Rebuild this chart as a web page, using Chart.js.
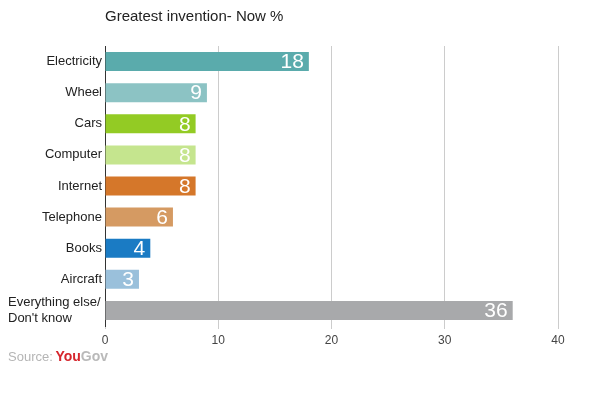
<!DOCTYPE html>
<html>
<head>
<meta charset="utf-8">
<script src="https://cdn.jsdelivr.net/npm/chart.js@4"></script>
<style>
  html, body { margin: 0; padding: 0; background: #fff; }
  #wrap { width: 600px; height: 401px; position: relative; }
</style>
</head>
<body>
<div id="wrap"><canvas id="chart"></canvas></div>
<script>
// data
const categories = ["Electricity", "Wheel", "Cars", "Computer", "Internet", "Telephone", "Books", "Aircraft", ["Everything else/", "Don't know"]]
const values = [18, 9, 8, 8, 8, 6, 4, 3, 36]
const barColors = ["#5aabac", "#8cc3c4", "#93cb24", "#c5e58e", "#d5772a", "#d59a62", "#1a7bc4", "#9ac0db", "#a8a9ab"]
const xTicks = [0, 10, 20, 30, 40]

const FONT = "'Liberation Sans', Arial, sans-serif"

// title, value labels and source line
const extras = {
  id: "extras",
  beforeDraw(chart) {
    // the two-line label is left aligned in the original
    const items = chart.scales.y.getLabelItems()
    items.forEach((item) => {
      if (Array.isArray(item.label)) {
        item.options.textAlign = "left"
        item.options.translation[0] = 8
      }
    })
  },
  afterDatasetsDraw(chart) {
    const ctx = chart.ctx
    const area = chart.chartArea
    ctx.save()

    // title
    ctx.font = "15px " + FONT
    ctx.fillStyle = "#222"
    ctx.textAlign = "left"
    ctx.textBaseline = "middle"
    ctx.fillText("Greatest invention- Now %", area.left, 17)

    // values inside bars
    const meta = chart.getDatasetMeta(0)
    ctx.font = "21px " + FONT
    ctx.fillStyle = "#fff"
    ctx.textAlign = "right"
    meta.data.forEach((bar, i) => {
      ctx.fillText(String(values[i]), bar.x - 5, bar.y + 1)
    })

    // source
    ctx.textAlign = "left"
    ctx.font = "13px " + FONT
    ctx.fillStyle = "#b5b5b5"
    ctx.fillText("Source:", 8, 357)
    let x = 8 + ctx.measureText("Source: ").width - 1
    ctx.font = "bold 14px " + FONT
    ctx.fillStyle = "#d6262d"
    ctx.fillText("You", x, 357)
    x += ctx.measureText("You").width
    ctx.fillStyle = "#b9b9b9"
    ctx.fillText("Gov", x, 357)

    ctx.restore()
  },
}

new Chart(document.getElementById("chart"), {
  type: "bar",
  data: {
    labels: categories,
    datasets: [
      {
        data: values,
        backgroundColor: barColors,
        borderWidth: 0,
        barPercentage: 0.61,
        categoryPercentage: 1,
      },
    ],
  },
  options: {
    indexAxis: "y",
    responsive: true,
    maintainAspectRatio: false,
    animation: false,
    layout: {
      padding: { top: 46, right: 42, bottom: 47, left: 0 },
    },
    plugins: {
      legend: { display: false },
      tooltip: { enabled: false },
    },
    scales: {
      x: {
        min: 0,
        max: 40,
        afterBuildTicks(scale) {
          scale.ticks = xTicks.map((v) => ({ value: v }))
        },
        afterFit(scale) {
          scale.height = 28
        },
        border: { display: false },
        grid: {
          color: "#cccccc",
          lineWidth: 1,
          drawTicks: true,
          tickLength: 3,
        },
        ticks: {
          color: "#444",
          padding: 4,
          font: { family: FONT, size: 12 },
        },
      },
      y: {
        afterFit(scale) {
          scale.width = 105
        },
        border: { display: true, color: "#333", width: 1 },
        grid: { display: false, drawTicks: false },
        ticks: {
          autoSkip: false,
          color: "#222",
          padding: 3,
          font: { family: FONT, size: 13 },
        },
      },
    },
  },
  plugins: [extras],
})
</script>
</body>
</html>
